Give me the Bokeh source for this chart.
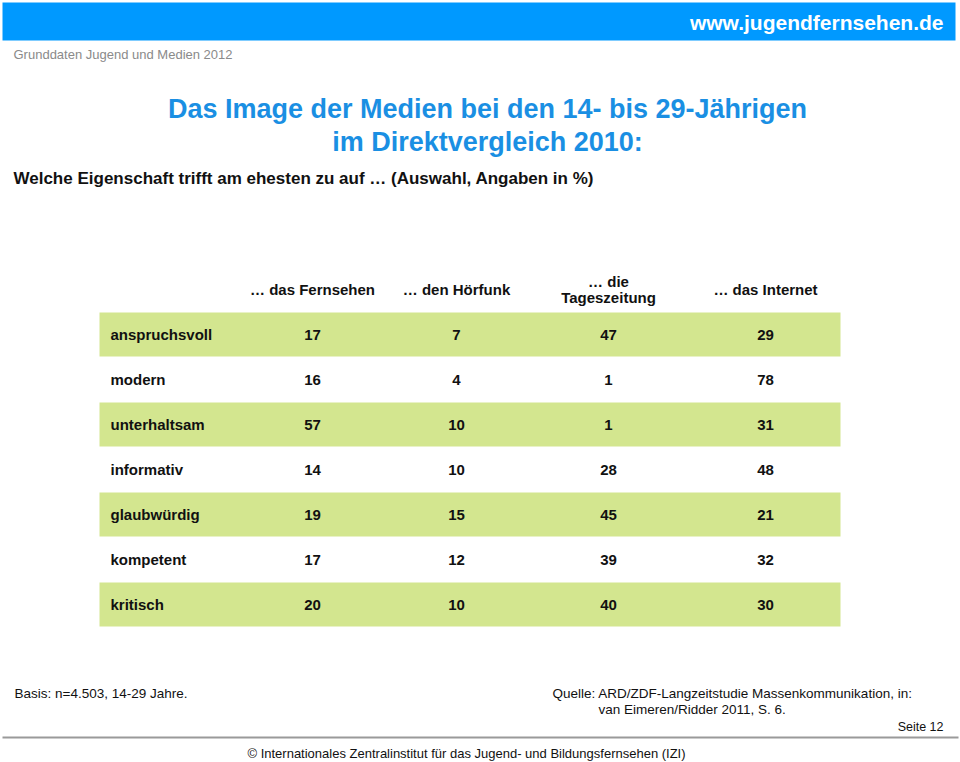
from bokeh.plotting import figure
from bokeh.models import Range1d, ColumnDataSource
from bokeh.core.properties import value
from bokeh.embed import file_html
from bokeh.resources import INLINE

# ---- data ----
columns = ["… das Fernsehen", "… den Hörfunk", "… die\nTageszeitung", "… das Internet"]
categories = ["anspruchsvoll", "modern", "unterhaltsam", "informativ", "glaubwürdig", "kompetent", "kritisch"]
fernsehen = [17, 16, 57, 14, 19, 17, 20]
hoerfunk = [7, 4, 10, 10, 15, 12, 10]
tageszeitung = [47, 1, 1, 28, 45, 39, 40]
internet = [29, 78, 31, 48, 21, 32, 30]
series = [fernsehen, hoerfunk, tageszeitung, internet]

title1 = "Das Image der Medien bei den 14- bis 29-Jährigen"
title2 = "im Direktvergleich 2010:"
subtitle = "Welche Eigenschaft trifft am ehesten zu auf … (Auswahl, Angaben in %)"
site = "www.jugendfernsehen.de"
kicker = "Grunddaten Jugend und Medien 2012"
basis = "Basis: n=4.503, 14-29 Jahre."
quelle1 = "Quelle: ARD/ZDF-Langzeitstudie Massenkommunikation, in:"
quelle2 = "van Eimeren/Ridder 2011, S. 6."
seite = "Seite 12"
copyright_txt = "© Internationales Zentralinstitut für das Jugend- und Bildungsfernsehen (IZI)"

# ---- layout ----
FONT = value("Liberation Sans")
W, H = 960, 762
p = figure(width=W, height=H, x_range=Range1d(0, W), y_range=Range1d(H, 0),
           output_backend="svg", toolbar_location=None, min_border=0,
           background_fill_color="white", border_fill_color="white")
p.axis.visible = False
p.grid.visible = False
p.outline_line_color = None

# header bar
p.quad(left=[2], right=[955], top=[2], bottom=[40], fill_color="#0099ff", line_color=None)
p.text(x=[943], y=[22], text=[site], text_color="white", text_font=FONT, text_font_style="bold",
       text_font_size="21px", text_align="right", text_baseline="middle")
p.text(x=[13], y=[54], text=[kicker], text_color="#8a8a8a", text_font=FONT,
       text_font_size="13px", text_align="left", text_baseline="middle")

# titles
p.text(x=[487, 487], y=[108, 141], text=[title1, title2], text_color="#1a8fe3", text_font=FONT,
       text_font_style="bold", text_font_size="27px", text_align="center", text_baseline="middle")
p.text(x=[13], y=[178], text=[subtitle], text_color="#111111", text_font=FONT,
       text_font_style="bold", text_font_size="17px", text_align="left", text_baseline="middle")

# table geometry
col_x = [312, 456, 608, 765]
row_y0, row_h = 334, 45
row_y = [row_y0 + i * row_h for i in range(len(categories))]

green_rows = [y for i, y in enumerate(row_y) if i % 2 == 0]
p.quad(left=99, right=840, top=[y - 22 for y in green_rows], bottom=[y + 22 for y in green_rows],
       fill_color="#d3e68f", line_color=None)

# column headers
hx, hy, ht = [], [], []
for cx, name in zip(col_x, columns):
    lines = name.split("\n")
    if len(lines) == 1:
        hx.append(cx); hy.append(289); ht.append(lines[0])
    else:
        hx += [cx, cx]; hy += [281, 297]; ht += lines
p.text(x=hx, y=hy, text=ht, text_color="#111111", text_font=FONT, text_font_style="bold",
       text_font_size="15px", text_align="center", text_baseline="middle")

# row labels
p.text(x=[110] * len(categories), y=row_y, text=categories, text_color="#111111", text_font=FONT,
       text_font_style="bold", text_font_size="15px", text_align="left", text_baseline="middle")

# values
vx, vy, vt = [], [], []
for cx, vals in zip(col_x, series):
    for y, v in zip(row_y, vals):
        vx.append(cx); vy.append(y); vt.append(str(v))
src = ColumnDataSource(dict(x=vx, y=vy, t=vt))
p.text(x="x", y="y", text="t", source=src, text_color="#111111", text_font=FONT,
       text_font_style="bold", text_font_size="15px", text_align="center", text_baseline="middle")

# footer
p.text(x=[14], y=[693], text=[basis], text_color="#111111", text_font=FONT,
       text_font_size="13.5px", text_align="left", text_baseline="middle")
p.text(x=[552], y=[693], text=[quelle1], text_color="#111111", text_font=FONT,
       text_font_size="13.5px", text_align="left", text_baseline="middle")
p.text(x=[598], y=[709], text=[quelle2], text_color="#111111", text_font=FONT,
       text_font_size="13.5px", text_align="left", text_baseline="middle")
p.text(x=[943], y=[726], text=[seite], text_color="#111111", text_font=FONT,
       text_font_size="12.5px", text_align="right", text_baseline="middle")
p.segment(x0=[2], x1=[958], y0=[737], y1=[737], line_color="#9a9a9a", line_width=2)
p.text(x=[466], y=[753], text=[copyright_txt], text_color="#111111", text_font=FONT,
       text_font_size="13px", text_align="center", text_baseline="middle")

open("out.html", "w").write(file_html(p, INLINE))
